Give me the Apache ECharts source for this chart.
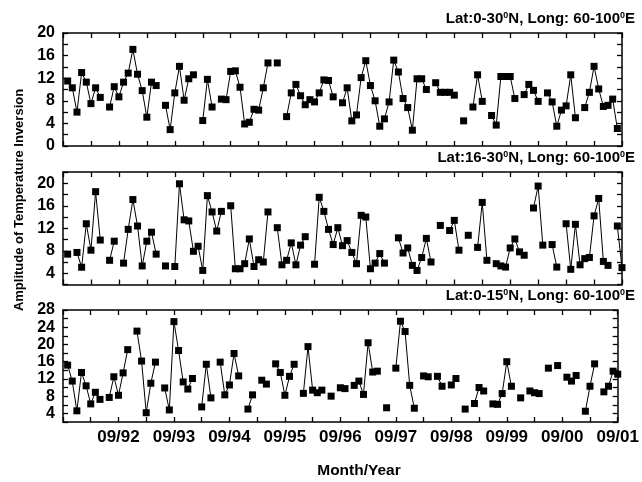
<!DOCTYPE html>
<html><head><meta charset="utf-8">
<script src="https://cdn.jsdelivr.net/npm/echarts@6/dist/echarts.min.js"></script>
<style>html,body{margin:0;padding:0;background:#fff}#c{width:642px;height:482px}</style>
</head><body><div id="c"></div>
<script>
// month index 0 = 09/91 ... 120 = 09/01
const xTickMonths = [12, 24, 36, 48, 60, 72, 84, 96, 108, 120];
const xTickLabels = ['09/92', '09/93', '09/94', '09/95', '09/96', '09/97', '09/98', '09/99', '09/00', '09/01'];

const panelTitles = ['Lat:0-30{s|0}N, Long: 60-100{s|0}E', 'Lat:16-30{s|0}N, Long: 60-100{s|0}E', 'Lat:0-15{s|0}N, Long: 60-100{s|0}E'];

const yLabels1 = [0, 4, 8, 12, 16, 20];
const yLabels2 = [4, 8, 12, 16, 20];
const yLabels3 = [4, 8, 12, 16, 20, 24, 28];

const values1 = [null,
  11.5, 10.3, 6.0, 13.0, 11.3, 7.5, 10.3, 8.6, null, 6.9,
  10.5, 8.7, 11.3, 12.9, 17.1, 12.7, 9.8, 5.1, 11.3, 10.7,
  null, 7.2, 2.9, 9.4, 14.1, 8.1, 11.9, 12.6, null, 4.5,
  11.8, 6.9, null, 8.3, 8.2, 13.2, 13.3, 10.4, 3.9, 4.2,
  6.5, 6.35, 10.3, 14.7, null, 14.7, null, 5.2, 9.4, 10.9,
  8.9, 7.3, 8.2, 7.8, 9.4, 11.7, 11.6, 8.7, null, 7.65,
  10.3, 4.45, 5.5, 12.1, 15.1, 10.7, 8.0, 3.5, 4.8, 7.8,
  15.2, 13.1, 8.4, 6.8, 2.8, 11.9, 11.9, 10.0, null, 11.2,
  9.5, 9.5, 9.5, 9.0, null, 4.45, null, 6.9, 12.6, 7.9,
  null, 5.4, 3.7, 12.3, 12.3, 12.3, 8.4, null, 9.1, 10.9,
  9.85, 7.9, null, 9.4, 7.8, 3.5, 6.35, 7.1, 12.6, 5.0,
  null, 6.8, 9.5, 14.1, 10.1, 7.0, 7.2, 8.3, 3.1, null];

const values2 = [null,
  7.4, null, 7.7, 5.07, 12.8, 8.1, 18.5, 9.9, null, 6.3,
  9.7, null, 5.8, 11.8, 17.1, 12.4, 5.3, 9.7, 11.3, 7.4,
  null, 5.3, null, 5.2, 19.9, 13.5, 13.3, 7.9, 8.8, 4.5,
  17.8, 14.9, 11.5, 15.0, null, 16.0, 4.8, 4.8, 5.7, 10.1,
  5.2, 6.4, 6.0, 14.9, null, 12.1, 5.5, 6.3, 9.4, 5.5,
  9.0, 10.5, null, 5.6, 17.5, 15.0, 11.8, 9.1, 12.1, 8.9,
  9.8, 7.7, 5.7, 14.3, 14.0, 4.8, 5.8, 7.5, 5.8, null,
  null, 10.3, 7.6, 8.5, 5.4, 4.5, 6.8, 10.2, 6.0, null,
  12.5, null, 11.6, 13.4, 8.1, null, 10.75, null, 8.6, 16.6,
  6.3, null, 5.7, 5.3, 5.1, 8.5, 10.1, 7.8, 7.2, null,
  15.6, 19.5, 9.0, null, 9.1, 5.1, null, 12.8, 4.7, 12.7,
  5.5, 6.6, 6.8, 14.2, 17.3, 6.1, 5.4, null, 12.4, 5.0];

const values3 = [null,
  15.2, 11.5, 4.6, 13.5, 10.4, 6.2, 8.9, 7.25, null, 7.7,
  12.5, 8.2, 13.4, 18.8, null, 23.1, 16.15, 4.15, 11.0, 15.9,
  null, 9.9, 4.8, 25.3, 18.6, 11.3, 9.65, 12.1, null, 5.5,
  15.4, 7.6, null, 15.9, 8.3, 10.6, 17.9, 12.7, null, 5.0,
  8.3, null, 11.7, 10.8, null, 15.5, 13.5, 8.2, 12.6, 15.4,
  null, 8.65, 19.5, 9.4, 8.8, 9.4, null, 8.0, null, 9.95,
  9.75, null, 10.5, 11.5, 8.4, 20.4, 13.6, 13.8, null, 5.3,
  null, 14.5, 25.4, 23.0, 10.5, 5.2, null, 12.7, 12.5, null,
  12.6, 10.3, null, 10.6, 12.1, null, 5.0, null, 6.3, 10.0,
  9.2, null, 6.2, 6.1, 8.6, 16.0, 10.3, null, 7.6, null,
  9.2, 8.8, 8.6, null, 14.5, null, 15.1, null, 12.4, 11.5,
  12.8, null, 4.5, 10.3, 15.5, null, 9.0, 10.3, 13.8, 13.1];

const FONT = '"Liberation Sans", Arial, Helvetica, sans-serif';
const chart = echarts.init(document.getElementById('c'), null, {renderer: 'canvas'});

const grids = [
  {left: 63, right: 20, top: 33, height: 113},
  {left: 63, right: 20, top: 172, height: 112.5},
  {left: 63, right: 20, top: 310, height: 112}
];
const yRanges = [[0, 20], [2, 22], [2, 28]];
const yLabelSets = [yLabels1, yLabels2, yLabels3];
const allValues = [values1, values2, values3];

const lineCommon = {show: true, onZero: false, lineStyle: {color: '#000', width: 1.5}};
const tickCommon = {show: true, inside: true, length: 5, lineStyle: {color: '#000', width: 1.3}};

const xAxis = [], yAxis = [], series = [], title = [];
grids.forEach((g, i) => {
  const showX = i === 2;
  xAxis.push({
    type: 'value', gridIndex: i, position: 'bottom', min: 0, max: 120, interval: 6,
    axisLine: lineCommon, axisTick: tickCommon, splitLine: {show: false},
    axisLabel: {
      show: showX, margin: 7, color: '#000', fontSize: 17, fontWeight: 'bold', fontFamily: FONT,
      formatter: v => { const k = xTickMonths.indexOf(v); return k >= 0 ? xTickLabels[k] : ''; }
    }
  });
  xAxis.push({
    type: 'value', gridIndex: i, position: 'top', min: 0, max: 120, interval: 6,
    axisLine: lineCommon, axisTick: tickCommon, splitLine: {show: false}, axisLabel: {show: false}
  });
  const [mn, mx] = yRanges[i];
  const labs = yLabelSets[i];
  yAxis.push({
    type: 'value', gridIndex: i, position: 'left', min: mn, max: mx, interval: 2,
    axisLine: lineCommon, axisTick: tickCommon, splitLine: {show: false},
    axisLabel: {
      margin: 8, color: '#000', fontSize: 16, fontWeight: 'bold', fontFamily: FONT,
      formatter: v => labs.indexOf(v) >= 0 ? String(v) : ''
    }
  });
  yAxis.push({
    type: 'value', gridIndex: i, position: 'right', min: mn, max: mx, interval: 2,
    axisLine: lineCommon, axisTick: tickCommon, splitLine: {show: false}, axisLabel: {show: false}
  });
  series.push({
    type: 'line', xAxisIndex: i * 2, yAxisIndex: i * 2,
    data: allValues[i].map((v, m) => [m, v === null ? '-' : v]),
    connectNulls: false,
    symbol: 'rect', symbolSize: 7, showSymbol: true,
    itemStyle: {color: '#000'},
    lineStyle: {color: '#000', width: 1},
    animation: false
  });
  title.push({
    text: panelTitles[i], right: 7, top: g.top - 22, padding: 0,
    textStyle: {
      color: '#000', fontSize: 15, fontWeight: 'bold', fontFamily: FONT,
      rich: {s: {color: '#000', fontSize: 9, fontWeight: 'bold', fontFamily: FONT, verticalAlign: 'top'}}
    }
  });
});

chart.setOption({
  animation: false,
  backgroundColor: '#fff',
  title: title,
  grid: grids,
  xAxis: xAxis,
  yAxis: yAxis,
  series: series,
  graphic: [
    {type: 'text', x: 19, y: 200, rotation: Math.PI / 2,
      style: {text: 'Amplitude of Temperature Inversion', font: 'bold 13px ' + FONT, fill: '#000', align: 'center', verticalAlign: 'middle'}},
    {type: 'text', x: 359, y: 471,
      style: {text: 'Month/Year', font: 'bold 15.5px ' + FONT, fill: '#000', align: 'center', verticalAlign: 'middle'}}
  ]
});
</script></body></html>
